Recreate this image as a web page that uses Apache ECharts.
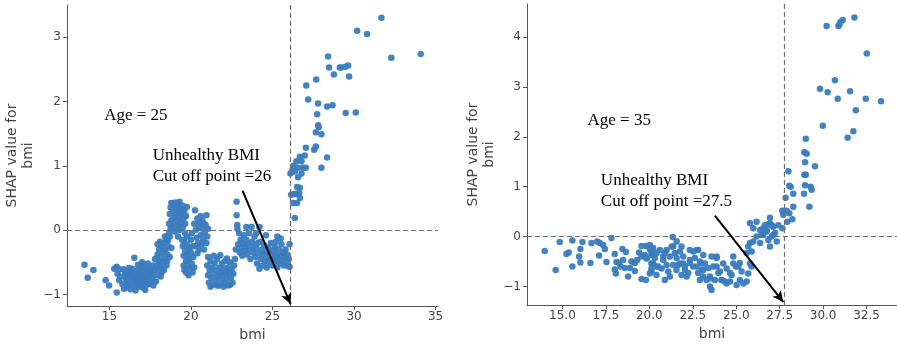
<!DOCTYPE html>
<html>
<head>
<meta charset="utf-8">
<script src="https://cdn.jsdelivr.net/npm/echarts@6/dist/echarts.min.js"></script>
<style>
html, body { margin: 0; padding: 0; background: #fff; }
#chart { width: 897px; height: 347px; }
</style>
</head>
<body>
<div id="chart"></div>
<script>
// SHAP value of bmi, age = 25 (left panel)
var age25Points = [
  [13.47,-0.54],[13.67,-0.74],[14.02,-0.62],[14.77,-0.78],[14.98,-0.86],[15.45,-0.97],
  [15.3,-0.60],[15.45,-0.57],[15.6,-0.61],[15.85,-0.61],[15.5,-0.68],[15.65,-0.73],[15.6,-0.78],[15.95,-0.68],
  [16.15,-0.65],[16.35,-0.65],[16.1,-0.89],[16.22,-0.86],[16.53,-0.43],[16.0,-0.75],[16.05,-0.82],[16.2,-0.72],
  [16.3,-0.78],[16.4,-0.70],[16.45,-0.84],[16.5,-0.76],[16.55,-0.66],[16.6,-0.80],[16.65,-0.88],[16.7,-0.72],
  [16.75,-0.62],[16.8,-0.77],[16.85,-0.84],[16.9,-0.68],[16.95,-0.58],[17.0,-0.74],[17.0,-0.81],[17.05,-0.64],
  [17.1,-0.55],[17.1,-0.90],[17.15,-0.70],[17.2,-0.78],[17.25,-0.60],[17.3,-0.66],[17.35,-0.52],[17.35,-0.74],
  [17.4,-0.84],[17.45,-0.58],[17.5,-0.68],[17.5,-0.83],[17.55,-0.62],[17.6,-0.76],[17.65,-0.55],[17.7,-0.86],
  [16.3,-0.92],[16.6,-0.94],[16.9,-0.88],[16.75,-0.54],[16.4,-0.60],[17.2,-0.93],[15.8,-0.84],[15.9,-0.91],
  [16.0,-0.69],[16.2,-0.59],[16.7,-0.85],[17.0,-0.50],[16.1,-0.78],[16.85,-0.72],[17.25,-0.85],[17.45,-0.70],
  [17.75,-0.62],[17.8,-0.45],[17.85,-0.70],[17.9,-0.55],[17.95,-0.38],[18.0,-0.62],[18.0,-0.48],[18.05,-0.30],
  [18.1,-0.18],[18.1,-0.55],[18.15,-0.42],[18.2,-0.66],[18.2,-0.25],[18.25,-0.50],[18.3,-0.35],[18.3,-0.60],
  [18.35,-0.20],[18.4,-0.45],[18.4,-0.10],[18.45,-0.30],[18.5,-0.55],[18.5,-0.15],[18.55,-0.38],[18.6,-0.16],
  [18.6,-0.25],[18.65,-0.05],[18.7,-0.42],[18.7,-0.10],[18.75,0.02],[18.8,-0.28],[17.85,-0.80],[18.15,-0.72],
  [18.35,-0.62],[17.95,-0.22],[18.55,-0.48],
  [18.65,0.10],[18.7,0.25],[18.75,0.35],[18.8,0.15],[18.85,0.05],[18.9,0.30],[18.9,0.40],[18.95,0.20],
  [19.0,0.10],[19.0,0.33],[19.05,0.43],[19.1,0.25],[19.1,0.02],[19.15,0.15],[19.2,0.38],[19.25,0.28],
  [19.25,0.08],[19.3,0.20],[19.35,0.34],[19.4,0.12],[19.45,0.26],[19.5,0.38],[19.5,0.04],[19.55,0.18],
  [19.6,0.30],[19.65,0.10],[19.7,0.22],[19.75,0.36],[18.8,0.42],[19.3,0.44],[19.0,-0.02],
  [19.2,-0.10],[19.45,-0.15],[19.65,-0.05],[19.3,0.00],
  [19.5,-0.25],[19.55,-0.40],[19.55,-0.55],[19.6,-0.18],[19.6,-0.62],[19.65,-0.32],[19.7,-0.48],[19.7,-0.66],
  [19.75,-0.22],[19.8,-0.38],[19.8,-0.56],[19.85,-0.70],[19.9,-0.28],[19.9,-0.45],[19.95,-0.60],[20.0,-0.35],
  [20.0,-0.15],[20.05,-0.52],[20.1,-0.66],[20.1,-0.25],[20.15,-0.42],[20.2,-0.58],[19.75,-0.10],[20.05,-0.05],
  [20.25,0.31],[20.95,0.23],[20.2,0.10],[20.3,0.00],[20.35,-0.12],[20.4,0.18],[20.45,-0.20],[20.5,0.05],
  [20.5,-0.30],[20.55,0.12],[20.6,-0.08],[20.65,-0.22],[20.7,0.02],[20.7,0.15],[20.75,-0.15],[20.8,-0.30],
  [20.85,-0.05],[20.9,0.08],[20.95,-0.20],[21.0,-0.10],[21.05,0.02],[20.4,-0.36],[20.6,0.22],[20.3,-0.25],[20.8,0.10],
  [21.0,-0.55],[21.05,-0.70],[21.1,-0.82],[21.15,-0.62],[21.2,-0.48],[21.25,-0.75],[21.3,-0.58],[21.35,-0.85],
  [21.4,-0.68],[21.45,-0.52],[21.5,-0.78],[21.55,-0.62],[21.6,-0.45],[21.65,-0.72],[21.7,-0.86],[21.75,-0.58],
  [21.8,-0.39],[21.8,-0.66],[21.85,-0.78],[21.9,-0.52],[21.95,-0.70],[22.0,-0.60],[22.05,-0.82],[22.1,-0.48],
  [22.15,-0.68],[22.2,-0.44],[22.2,-0.76],[22.25,-0.58],[22.3,-0.86],[22.35,-0.65],[22.4,-0.50],[22.45,-0.74],
  [22.5,-0.60],[22.55,-0.82],[22.6,-0.68],[22.65,-0.55],[21.2,-0.88],[21.6,-0.86],[22.0,-0.88],[21.05,-0.42],
  [21.4,-0.40],[22.4,-0.85],
  [22.8,0.44],[22.8,0.23],[22.84,0.08],[22.85,0.02],[22.95,-0.05],[22.7,-0.45],[22.75,-0.30],[22.9,-0.22],
  [23.0,-0.35],[23.05,-0.15],[23.1,-0.28],[23.15,-0.40],[23.2,-0.20],[23.25,-0.08],[23.3,-0.32],[23.35,-0.25],
  [23.4,-0.15],[23.45,-0.38],[23.5,-0.22],[23.55,-0.05],[23.6,-0.30],[23.65,-0.45],[23.72,0.05],[23.75,-0.18],
  [23.8,-0.35],[23.85,-0.25],[23.9,-0.10],[23.95,-0.42],[24.0,-0.28],[24.05,-0.52],[24.1,-0.20],[24.15,-0.36],
  [24.2,-0.60],[24.25,-0.18],[24.3,-0.45],[24.35,-0.30],[24.4,-0.55],[24.45,-0.38],[24.5,-0.24],[24.55,-0.48],
  [24.6,-0.35],[24.65,-0.58],[24.7,-0.42],[24.75,-0.28],[24.8,-0.50],[24.85,-0.36],[24.9,-0.20],[24.95,-0.45],
  [25.0,-0.55],[25.05,-0.32],[25.1,-0.42],[25.15,-0.26],[25.2,-0.18],[25.2,-0.50],[25.25,-0.38],[25.3,-0.58],
  [25.35,-0.45],[25.4,-0.30],[25.45,-0.52],[25.5,-0.40],[25.55,-0.22],[25.6,-0.48],[25.65,-0.35],[25.7,-0.55],
  [25.75,-0.42],[25.8,-0.30],[25.85,-0.50],[25.9,-0.38],[25.95,-0.56],[26.0,-0.45],[26.05,-0.22],[26.05,-0.57],
  [24.2,0.05],[24.0,-0.05],[23.4,0.05],[25.3,-0.10],[25.5,-0.13],[24.6,-0.08],
  [26.37,0.19],[26.27,0.42],[26.51,0.42],[26.31,0.56],[26.43,0.56],[26.68,0.50],[26.64,0.58],[26.51,0.67],
  [26.68,0.66],[26.57,0.82],[26.78,0.88],[26.37,0.91],[26.23,0.93],[26.27,1.00],[26.57,0.97],[26.88,0.97],
  [27.05,0.97],[26.47,1.07],[26.78,1.07],[26.68,1.14],[26.98,1.16],[28.0,0.97],[28.35,1.13],[27.05,1.28],
  [27.56,1.25],[27.66,1.30],[27.66,1.52],[28.0,1.49],[27.8,1.63],[27.84,1.60],[27.74,1.80],[27.19,2.03],
  [27.8,1.97],[28.35,1.92],[28.68,1.94],[29.49,1.82],[30.11,1.83],[27.07,2.25],[27.68,2.34],[28.76,2.42],
  [29.70,2.39],[28.47,2.53],[29.13,2.53],[29.23,2.53],[29.47,2.54],[29.64,2.56],[28.41,2.70],[30.19,3.10],
  [30.80,3.05],[31.68,3.30],[32.29,2.68],[34.09,2.74],[26.1,0.88],[26.15,0.55]
];

// SHAP value of bmi, age = 35 (right panel)
var age35Points = [
  [13.98,-0.29],[14.61,-0.67],[14.84,-0.11],[15.23,-0.35],[15.36,-0.32],[15.57,-0.08],[15.57,-0.60],[16.03,-0.25],
  [15.96,-0.40],[16.03,-0.52],[16.15,-0.11],[16.61,-0.53],[16.67,-0.13],[17.0,-0.10],[17.15,-0.13],[17.34,-0.17],
  [17.11,-0.38],[17.44,-0.25],[17.53,-0.51],[17.82,-0.03],[18.01,-0.35],[18.11,-0.51],[18.26,-0.53],[18.01,-0.66],
  [18.07,-0.74],[18.45,-0.25],[18.65,-0.31],[18.49,-0.47],[18.34,-0.60],[18.59,-0.63],[18.88,-0.63],[18.78,-0.80],
  [19.16,-0.69],[18.97,-0.50],[19.16,-0.53],[19.3,-0.47],[19.41,-0.32],[19.55,-0.19],[19.8,-0.19],[19.55,-0.40],
  [19.74,-0.37],[19.84,-0.43],[19.55,-0.85],[19.8,-0.87],[20.03,-0.25],[20.12,-0.33],[20.12,-0.64],[20.03,-0.74],
  [20.13,-0.37],[20.32,-0.43],[20.22,-0.54],[20.41,-0.60],[20.13,-0.70],[20.41,-0.77],[20.7,-0.64],[20.8,-0.47],
  [20.61,-0.27],[20.89,-0.33],[20.99,-0.57],[21.09,-0.70],[21.18,-0.80],[20.89,-0.87],
  [21.34,-0.01],[21.57,-0.10],[21.37,-0.20],[21.47,-0.33],[21.57,-0.43],[21.76,-0.30],[21.85,-0.20],[21.66,-0.57],
  [21.95,-0.54],[22.05,-0.67],[21.85,-0.77],[22.14,-0.80],
  [22.33,-0.27],[22.53,-0.30],[22.62,-0.43],[22.33,-0.53],[22.72,-0.60],[22.91,-0.50],[23.01,-0.67],[23.2,-0.54],
  [23.39,-0.63],[23.1,-0.80],[22.91,-0.87],[23.49,-0.84],
  [22.81,-0.27],[23.1,-0.37],[23.58,-0.40],[23.87,-0.43],[23.87,-0.60],[24.06,-0.70],[23.77,-0.87],[24.16,-0.87],
  [24.35,-0.90],[24.64,-0.90],[24.73,-0.77],[24.45,-0.64],[24.83,-0.54],[25.12,-0.60],[25.31,-0.70],[25.21,-0.87],
  [25.41,-0.94],[25.6,-0.90],[25.02,-0.97],[23.49,-1.00],[23.58,-1.07],
  [24.83,-0.40],[24.98,-0.60],[25.2,-0.53],[25.69,-0.74],[25.79,-0.54],[25.88,-0.60],
  [20.03,-0.17],[20.22,-0.23],[20.41,-0.33],[20.8,-0.40],[19.84,-0.44],[20.12,-0.54],[20.51,-0.60],[20.99,-0.27],
  [21.18,-0.40],[21.28,-0.20],[21.37,-0.57],[21.56,-0.67],[21.76,-0.54],[21.95,-0.40],[22.04,-0.60],[22.24,-0.73],
  [22.33,-0.47],[22.52,-0.60],[22.72,-0.27],[22.81,-0.73],[23.0,-0.54],[23.1,-0.67],[23.29,-0.87],[23.48,-0.80],
  [23.68,-0.60],[23.87,-0.40],[23.97,-0.73],[24.16,-0.87],[24.25,-0.54],[24.44,-0.94],[24.64,-0.73],
  [25.79,0.27],[26.17,0.30],[25.98,0.17],[26.37,0.13],[26.65,0.23],[26.75,0.10],[26.56,0.03],[26.17,0.00],
  [25.79,-0.13],[25.98,-0.10],[26.37,-0.13],[26.85,-0.07],[27.04,0.00],[27.23,0.07],[27.33,-0.10],[26.94,-0.20],
  [25.69,-0.20],[25.6,-0.33],[25.89,-0.30],[27.13,0.20],[26.94,0.27],[27.42,0.23],
  [26.94,0.38],[26.85,0.25],[27.04,0.23],[26.56,0.17],[26.75,0.13],[26.46,0.03],[27.13,0.03],
  [27.65,0.17],[27.94,0.30],[28.23,0.35],[27.71,0.44],[28.05,0.47],[27.65,0.52],[27.9,0.52],[28.28,0.60],
  [29.21,0.60],[27.84,0.78],[28.28,0.86],[28.9,0.86],[28.05,1.02],[28.13,1.00],[29.34,0.94],[29.28,1.00],
  [28.96,1.03],[28.0,1.31],[28.92,1.24],[29.0,1.24],[29.53,1.41],[28.96,1.49],[28.92,1.69],[29.05,1.66],
  [29.0,1.96],[29.98,2.22],[31.41,1.98],[31.74,2.11],[31.88,2.53],[33.33,2.71],[32.45,2.76],[31.55,2.91],
  [30.84,2.76],[30.26,2.89],[29.82,2.96],[30.68,3.13],[32.51,3.67],[30.2,4.22],[30.88,4.22],[30.93,4.25],
  [31.0,4.30],[31.13,4.34],[31.8,4.39]
];

var cutoff25 = 26.1;
var cutoff35 = 27.77;
var xTicks25 = [15, 20, 25, 30, 35];
var yTicks25 = [-1, 0, 1, 2, 3];
var xTicks35 = [15, 17.5, 20, 22.5, 25, 27.5, 30, 32.5];
var yTicks35 = [-1, 0, 1, 2, 3, 4];

var dotColor = '#3a7cbf';
var inkColor = '#444';
var serif = '"Liberation Serif", "Times New Roman", serif';

function minusFmt(v) {
  return v < 0 ? '\u2212' + Math.abs(v) : String(v);
}

function xAxisFor(idx, min, max, ticks, fixed) {
  return {
    type: 'value', gridIndex: idx, min: min, max: max,
    name: 'bmi', nameLocation: 'middle', nameGap: 22,
    nameTextStyle: { color: inkColor, fontSize: 14, fontFamily: 'DejaVu Sans' },
    axisLine: { onZero: false, lineStyle: { color: '#555', width: 1 } },
    axisTick: { customValues: ticks, length: 4, lineStyle: { color: '#555' } },
    axisLabel: {
      customValues: ticks, margin: 5, color: inkColor, fontSize: 12, fontFamily: 'DejaVu Sans',
      formatter: function (v) { return fixed ? v.toFixed(1) : String(v); }
    },
    splitLine: { show: false }
  };
}

function yAxisFor(idx, min, max, ticks, gap) {
  return {
    type: 'value', gridIndex: idx, min: min, max: max,
    name: 'SHAP value for\nbmi', nameLocation: 'middle', nameRotate: 90, nameGap: gap,
    nameTextStyle: { color: inkColor, fontSize: 14, fontFamily: 'DejaVu Sans', lineHeight: 16 },
    axisLine: { onZero: false, lineStyle: { color: '#555', width: 1 } },
    axisTick: { customValues: ticks, length: 4, lineStyle: { color: '#555' } },
    axisLabel: { customValues: ticks, margin: 6, color: inkColor, fontSize: 12, fontFamily: 'DejaVu Sans', formatter: minusFmt },
    splitLine: { show: false }
  };
}

function panel(idx, points, cutoff, arrowFrom, arrowTo, ageAt, ageText, noteAt, noteText) {
  return {
    type: 'scatter', xAxisIndex: idx, yAxisIndex: idx,
    data: points, symbolSize: 6.5,
    itemStyle: { color: dotColor, opacity: 0.95 },
    markLine: {
      silent: true, symbol: 'none', label: { show: false },
      lineStyle: { color: '#6e6e6e', type: [5, 3], width: 1.2 },
      data: [
        { xAxis: cutoff },
        { yAxis: 0 },
        [
          { coord: arrowFrom, symbol: 'none', lineStyle: { color: '#000', type: 'solid', width: 2 } },
          { coord: arrowTo, symbol: 'arrow', symbolSize: [8, 11] }
        ]
      ]
    },
    markPoint: {
      silent: true, symbol: 'circle', symbolSize: 0,
      label: { show: true, position: 'right', distance: 0, color: '#000', fontFamily: serif, fontSize: 17, lineHeight: 20.5, formatter: '{b}' },
      data: [
        { coord: ageAt, name: ageText },
        { coord: noteAt, name: noteText }
      ]
    }
  };
}

var chart = echarts.init(document.getElementById('chart'));
var option = {
  animation: false,
  grid: [
    { left: 67, top: 5, width: 371, height: 301 },
    { left: 527, top: 4, width: 370, height: 301 }
  ],
  xAxis: [
    xAxisFor(0, 12.4, 35.15, xTicks25, false),
    xAxisFor(1, 12.96, 34.25, xTicks35, true)
  ],
  yAxis: [
    yAxisFor(0, -1.18, 3.5, yTicks25, 31),
    yAxisFor(1, -1.37, 4.66, yTicks35, 30)
  ],
  series: [
    panel(0, age25Points, cutoff25, [23.17, 0.61], [26.11, -1.15],
      [14.68, 1.78], 'Age = 25', [17.66, 1.0], 'Unhealthy BMI\nCut off point =26'),
    panel(1, age35Points, cutoff35, [23.77, 0.42], [27.71, -1.31],
      [16.44, 2.33], 'Age = 35', [17.21, 0.91], 'Unhealthy BMI\nCut off point =27.5')
  ]
};
chart.setOption(option);
</script>
</body>
</html>
